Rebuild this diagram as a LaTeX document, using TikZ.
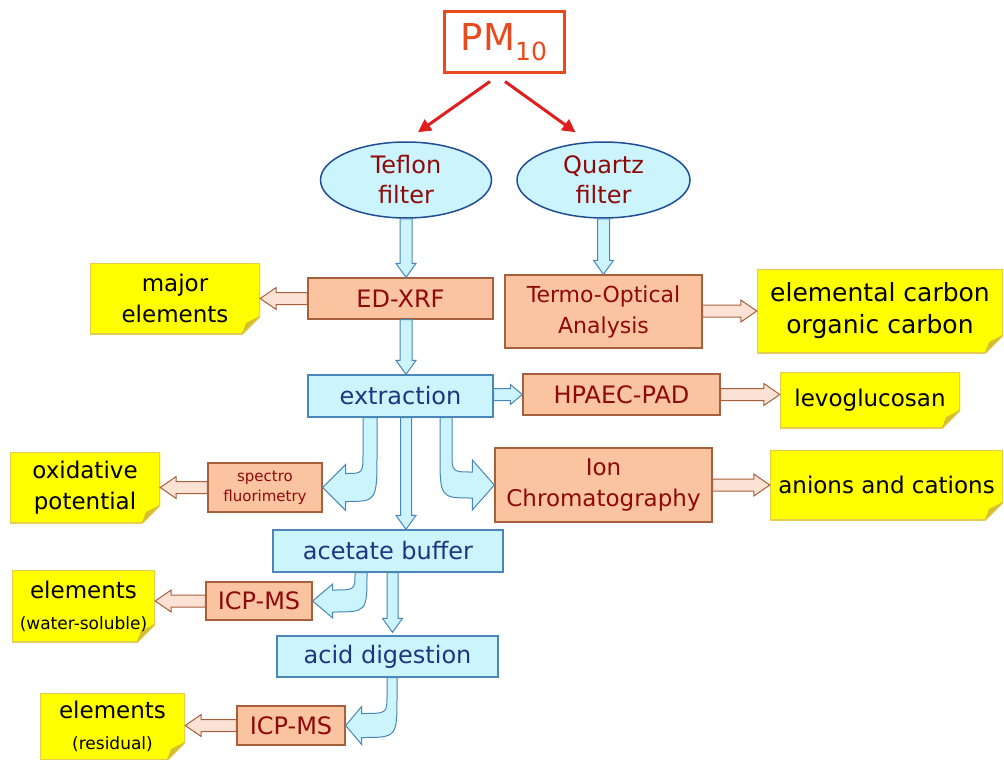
\documentclass[tikz,border=0pt]{standalone}
\usepackage{fontspec}
\setmainfont{DejaVu Sans}
\usetikzlibrary{calc,shapes.geometric,arrows.meta}

\definecolor{cyanfill}{HTML}{CCF4FC}
\definecolor{cyanline}{HTML}{4A86B8}
\definecolor{peach}{HTML}{FAC4A0}
\definecolor{peachline}{HTML}{A8603C}
\definecolor{pinkfill}{HTML}{FCE2D4}
\definecolor{darkred}{HTML}{8E0A0A}
\definecolor{navy}{HTML}{1F3580}
\definecolor{noteyellow}{HTML}{FFFF00}
\definecolor{notefold}{HTML}{D6BE32}
\definecolor{noteline}{HTML}{E6CC50}
\definecolor{pmred}{HTML}{E84A1E}
\definecolor{arrowred}{HTML}{E01E1E}
\definecolor{ellline}{HTML}{1F4E96}

\tikzset{
 sz/.style 2 args={minimum width=#1pt, minimum height=#2pt},
 pbox/.style={draw=peachline, fill=peach, line width=1.3pt, text=darkred, align=center, inner sep=0pt, font=\fontsize{24}{31}\selectfont},
 cbox/.style={draw=cyanline, fill=cyanfill, line width=1.3pt, text=navy, align=center, inner sep=0pt, font=\fontsize{24}{31}\selectfont},
 filt/.style={ellipse, draw=ellline, fill=cyanfill, line width=1.5pt, text=darkred, align=center, inner sep=0pt, font=\fontsize{24}{30}\selectfont},
 note/.style={fill=white, draw=none, text=black, align=center, inner sep=0pt, font=\fontsize{23}{31}\selectfont,
   path picture={
     \fill[noteyellow, draw=noteline, line width=2pt] (path picture bounding box.north west) -- (path picture bounding box.north east) -- ($(path picture bounding box.south east)+(0,-18)$) -- ($(path picture bounding box.south east)+(-18,0)$) -- (path picture bounding box.south west) -- cycle;
     \fill[notefold] ($(path picture bounding box.south east)+(0,-18)$) -- ($(path picture bounding box.south east)+(-18,0)$) -- ($(path picture bounding box.south east)+(-14,-11)$) -- cycle;
   }},
 carrow/.style={fill=cyanfill, draw=cyanline, line width=1pt},
 parrow/.style={fill=pinkfill, draw=peachline, line width=1pt},
 redarrow/.style={draw=arrowred, line width=3pt, -{Triangle[length=13pt,width=13pt]}},
}

% straight block arrow: style, start, end, shaft half width, head half width, head length
\newcommand{\blockarrow}[6]{%
 \coordinate (baS) at (#2);
 \coordinate (baE) at (#3);
 \coordinate (baH) at ($(baE)!#6pt!(baS)$);
 \path[#1] ($(baS)!#4pt!90:(baE)$) -- ($(baH)!#4pt!90:(baE)$) -- ($(baH)!#5pt!90:(baE)$) -- (baE)
   -- ($(baH)!#5pt!-90:(baE)$) -- ($(baH)!#4pt!-90:(baE)$) -- ($(baS)!#4pt!-90:(baE)$) -- cycle;}

% curved block arrow turning left: style, start (top centre of shaft), tip, shaft half, base half, head half, head length
\newcommand{\curvedleft}[7]{%
 \path[#1] let \p1=(#2), \p2=(#3) in
  (\x1+#4,\y1) -- (\x1+#4,\y2+2.5*#5) .. controls (\x1+#4,\y2-#5) .. (\x2+#7,\y2-#5)
  -- (\x2+#7,\y2-#6) -- (\x2,\y2) -- (\x2+#7,\y2+#6) -- (\x2+#7,\y2+#5)
  .. controls (\x1-#4,\y2+#5) .. (\x1-#4,\y2+2.5*#5) -- (\x1-#4,\y1) -- cycle;}

% curved block arrow turning right
\newcommand{\curvedright}[7]{%
 \path[#1] let \p1=(#2), \p2=(#3) in
  (\x1-#4,\y1) -- (\x1-#4,\y2+2.5*#5) .. controls (\x1-#4,\y2-#5) .. (\x2-#7,\y2-#5)
  -- (\x2-#7,\y2-#6) -- (\x2,\y2) -- (\x2-#7,\y2+#6) -- (\x2-#7,\y2+#5)
  .. controls (\x1+#4,\y2+#5) .. (\x1+#4,\y2+2.5*#5) -- (\x1+#4,\y1) -- cycle;}

\begin{document}
\begin{tikzpicture}[x=1pt, y=-1pt]
\useasboundingbox (0,0) rectangle (1004,760);

% top
\node[draw=pmred, line width=3pt, text=pmred, inner sep=0pt, sz={120}{61}] (pm) at (504,42.5)
  {\fontsize{37}{37}\selectfont PM\raisebox{-0.28em}{\fontsize{25}{25}\selectfont 10}};
\node[filt, sz={171}{76}] (teflon) at (406,180) {Teflon\\filter};
\node[filt, sz={173}{76}] (quartz) at (603.5,180) {Quartz\\filter};

% analyses
\node[pbox, sz={185}{41}] (edxrf) at (400.5,298.5) {ED-XRF};
\node[pbox, sz={197}{73}, font=\fontsize{22}{31}\selectfont] (termo) at (603.5,311.5) {Termo-Optical\\Analysis};
\node[cbox, sz={185}{42}] (extraction) at (400.5,396) {extraction};
\node[pbox, sz={197}{41}] (hpaec) at (621.5,394.5) {HPAEC-PAD};
\node[pbox, sz={217}{74}, font=\fontsize{23}{31}\selectfont] (ion) at (603.5,485) {Ion\\Chromatography};
\node[pbox, sz={114}{49}, font=\fontsize{15}{20}\selectfont] (spectro) at (265,487.5) {spectro\\fluorimetry};
\node[cbox, sz={230}{42}] (acetate) at (388,551) {acetate buffer};
\node[pbox, sz={106}{38}] (icp1) at (259,601) {ICP-MS};
\node[cbox, sz={221}{41}] (acid) at (387.5,656.5) {acid digestion};
\node[pbox, sz={108}{39}] (icp2) at (291,725.5) {ICP-MS};

% results
\node[note, sz={170}{71}] (major) at (175,298.5) {major\\elements};
\node[note, sz={246}{84}, font=\fontsize{25}{32}\selectfont] (elemc) at (880,311) {elemental carbon\\organic carbon};
\node[note, sz={180}{56}] (levo) at (870,400) {levoglucosan};
\node[note, sz={233}{70}] (anions) at (886.5,485) {anions and cations};
\node[note, sz={150}{71}] (oxid) at (85,487.5) {oxidative\\potential};
\node[note, sz={143}{72}] (elws) at (83.5,606) {elements\\{\fontsize{17}{24}\selectfont(water-soluble)}};
\node[note, sz={145}{67}] (elres) at (112.5,726.5) {elements\\{\fontsize{17}{24}\selectfont(residual)}};

% red arrows
\draw[redarrow] ($(pm.south)+(-14,7)$) -- ($(teflon.north)+(12,-9)$);
\draw[redarrow] ($(pm.south)+(1,7)$) -- ($(quartz.north)+(-28,-9)$);

% cyan straight arrows
\blockarrow{carrow}{teflon.south}{teflon.south |- edxrf.north}{6}{10}{14}
\blockarrow{carrow}{quartz.south}{quartz.south |- termo.north}{6}{10}{14}
\blockarrow{carrow}{teflon.south |- edxrf.south}{teflon.south |- extraction.north}{6}{10}{14}
\blockarrow{carrow}{teflon.south |- extraction.south}{teflon.south |- acetate.north}{5.5}{10}{14}
\blockarrow{carrow}{$(acetate.south)+(4.5,0)$}{$(acid.north)+(5,-3)$}{5.5}{10}{14}
\blockarrow{carrow}{extraction.east |- hpaec.west}{hpaec.west}{6}{10}{12}

% cyan curved arrows
\curvedleft{carrow}{$(extraction.south)+(-30.5,0)$}{spectro.east}{7}{14}{23}{23}
\curvedright{carrow}{$(extraction.south)+(45.5,0)$}{ion.west}{6}{13}{25}{22}
\curvedleft{carrow}{$(acetate.south)+(-27,0)$}{icp1.east}{6}{11}{17}{20}
\curvedleft{carrow}{$(acid.south)+(4.5,0)$}{icp2.east}{5}{12}{19}{16}

% pink arrows to results
\blockarrow{parrow}{edxrf.west}{major.east}{6}{11}{16}
\blockarrow{parrow}{termo.east |- elemc.west}{elemc.west}{6}{11}{16}
\blockarrow{parrow}{hpaec.east}{hpaec.east -| levo.west}{6}{11}{16}
\blockarrow{parrow}{ion.east}{ion.east -| anions.west}{6}{11}{16}
\blockarrow{parrow}{spectro.west}{spectro.west -| oxid.east}{6}{11}{16}
\blockarrow{parrow}{icp1.west}{icp1.west -| elws.east}{6}{11}{16}
\blockarrow{parrow}{icp2.west}{icp2.west -| elres.east}{6}{11}{16}
\end{tikzpicture}
\end{document}
